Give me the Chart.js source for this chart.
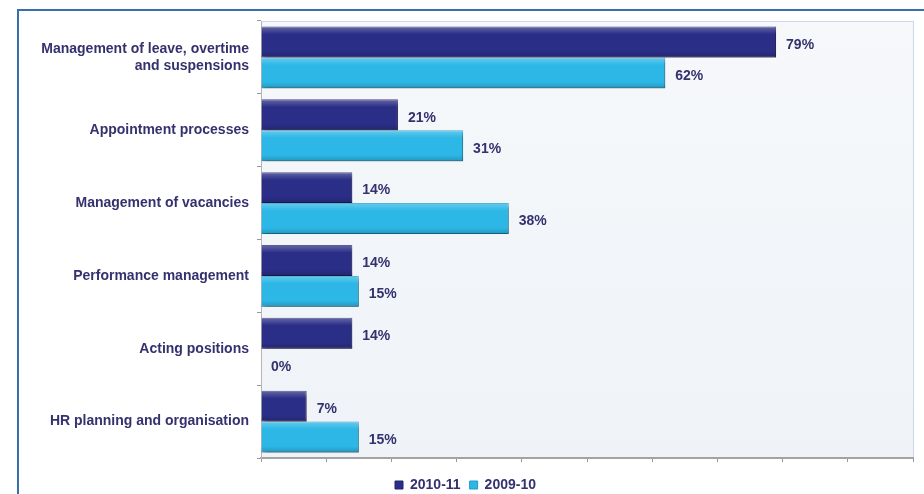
<!DOCTYPE html>
<html>
<head>
<meta charset="utf-8">
<script src="https://cdn.jsdelivr.net/npm/chart.js@4"></script>
<style>
  html, body { margin: 0; padding: 0; background: #ffffff; }
  #wrap { width: 924px; height: 494px; }
</style>
</head>
<body>
<div id="wrap"><canvas id="hrChart" width="924" height="494"></canvas></div>
<script>
const categories = [
    ['Management of leave, overtime', 'and suspensions'],
    'Appointment processes',
    'Management of vacancies',
    'Performance management',
    'Acting positions',
    'HR planning and organisation'
];
const seriesNames = ['2010-11', '2009-10'];
const values2010 = [79, 21, 14, 14, 14, 7];
const values2009 = [62, 31, 38, 15, 0, 15];

const TEXT = '#35316e';
const FONT = "'Liberation Sans', Arial, sans-serif";

// plot background, outer frame, bar shadows, gloss and value labels
const decor = {
    id: 'decor',
    beforeDraw(chart) {
        const { ctx, chartArea: a } = chart;
        ctx.save();
        const g = ctx.createLinearGradient(0, a.top, 0, a.bottom);
        g.addColorStop(0, '#f6f8fb');
        g.addColorStop(1, '#eff3f7');
        ctx.fillStyle = g;
        ctx.fillRect(a.left, a.top, a.right - a.left, a.bottom - a.top);
        ctx.strokeStyle = '#c9d9ea';
        ctx.lineWidth = 1;
        ctx.strokeRect(a.left + 0.5, a.top + 0.5, a.right - a.left, a.bottom - a.top);
        ctx.strokeStyle = '#3a6fae';
        ctx.lineWidth = 2;
        ctx.beginPath();
        ctx.moveTo(18, chart.height);
        ctx.lineTo(18, 10);
        ctx.lineTo(chart.width, 10);
        ctx.stroke();
        ctx.restore();
    },
    beforeDatasetDraw(chart) {
        const ctx = chart.ctx;
        ctx.save();
        ctx.shadowColor = 'rgba(0,0,0,0.35)';
        ctx.shadowOffsetX = 2;
        ctx.shadowOffsetY = 2;
        ctx.shadowBlur = 3;
    },
    afterDatasetDraw(chart, args) {
        const ctx = chart.ctx;
        ctx.restore();
        ctx.save();
        args.meta.data.forEach(bar => {
            const w = bar.x - bar.base;
            if (w <= 0) return;
            const top = bar.y - bar.height / 2;
            const g = ctx.createLinearGradient(0, top, 0, top + bar.height);
            g.addColorStop(0, 'rgba(255,255,255,0.28)');
            g.addColorStop(0.25, 'rgba(255,255,255,0)');
            g.addColorStop(0.8, 'rgba(0,0,0,0)');
            g.addColorStop(1, 'rgba(0,0,0,0.18)');
            ctx.fillStyle = g;
            ctx.fillRect(bar.base, top, w, bar.height);
        });
        ctx.restore();
    },
    afterDatasetsDraw(chart) {
        const ctx = chart.ctx;
        ctx.save();
        ctx.font = 'bold 14px ' + FONT;
        ctx.fillStyle = TEXT;
        ctx.textAlign = 'left';
        ctx.textBaseline = 'middle';
        chart.data.datasets.forEach((ds, i) => {
            chart.getDatasetMeta(i).data.forEach((bar, j) => {
                ctx.fillText(ds.data[j] + '%', bar.x + 10, bar.y + 3);
            });
        });
        ctx.restore();
    }
};

new Chart(document.getElementById('hrChart'), {
    type: 'bar',
    data: {
        labels: categories,
        datasets: [{
            label: seriesNames[0],
            data: values2010,
            backgroundColor: '#2b2e86',
            borderColor: '#23256e',
            borderWidth: 1,
            categoryPercentage: 0.85,
            barPercentage: 1
        }, {
            label: seriesNames[1],
            data: values2009,
            backgroundColor: '#2cb7e6',
            borderColor: '#1f9cc8',
            borderWidth: 1,
            categoryPercentage: 0.85,
            barPercentage: 1
        }]
    },
    options: {
        indexAxis: 'y',
        responsive: false,
        animation: false,
        layout: { padding: { left: 18, right: 11, top: 21, bottom: -8 } },
        scales: {
            x: {
                min: 0,
                max: 100,
                ticks: { display: false, stepSize: 10 },
                grid: { drawOnChartArea: false, color: '#999999', tickLength: 4 },
                border: { color: '#a3a3a3', width: 2 },
                afterFit(scale) { scale.height = 11; }
            },
            y: {
                ticks: {
                    color: TEXT,
                    font: { family: FONT, size: 14, weight: 'bold' },
                    padding: 8
                },
                grid: { drawOnChartArea: false, color: '#999999', tickLength: 4 },
                border: { color: '#b5b5b5', width: 1 },
                afterFit(scale) { scale.width = 243; }
            }
        },
        plugins: {
            legend: {
                position: 'bottom',
                labels: {
                    color: TEXT,
                    font: { family: FONT, size: 14, weight: 'bold' },
                    boxWidth: 8,
                    boxHeight: 8,
                    padding: 9
                }
            },
            tooltip: { enabled: false }
        }
    },
    plugins: [decor]
});
</script>
</body>
</html>
